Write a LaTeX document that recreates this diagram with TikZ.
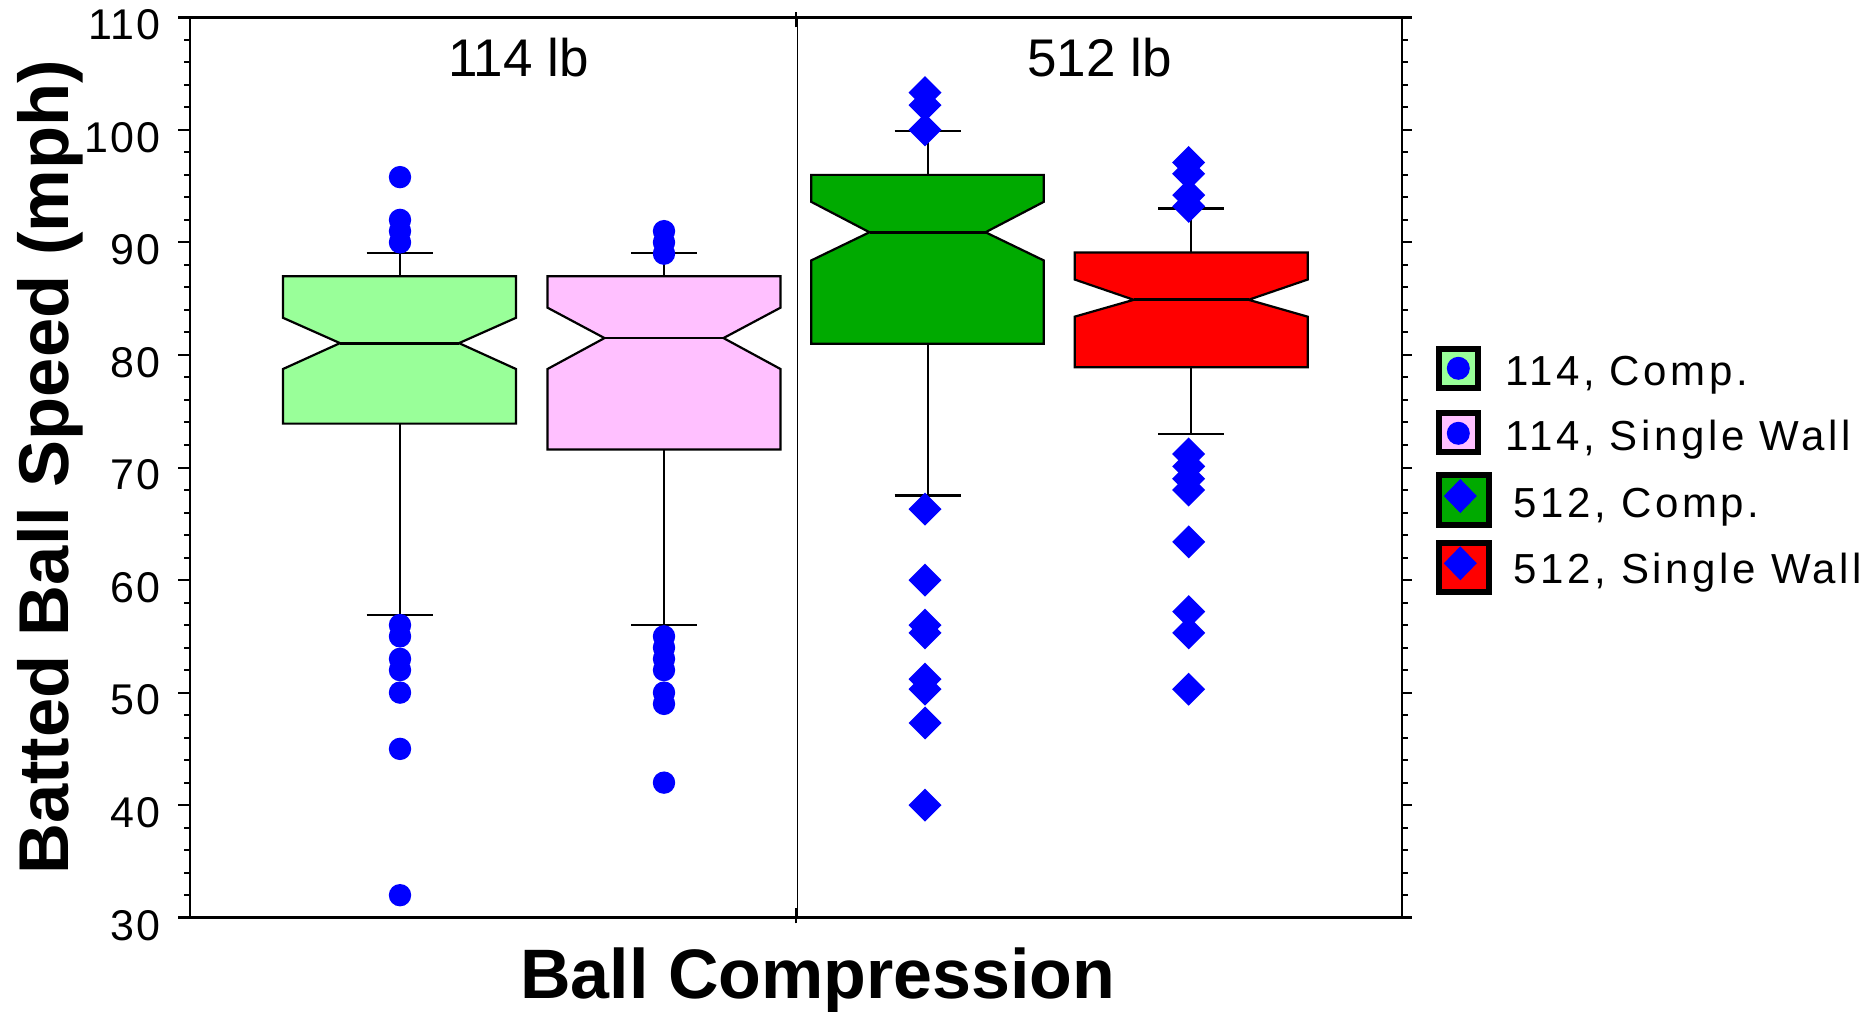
\documentclass[tikz,border=0pt]{standalone}
\usepackage{fontspec}
\setmainfont{Liberation Sans}
\newfontfamily\legfont[LetterSpace=8.5]{Liberation Sans}
\newfontfamily\tickfont[LetterSpace=4]{Liberation Sans}
\definecolor{lgreen}{RGB}{153,255,153}
\definecolor{lpink}{RGB}{255,192,255}
\definecolor{dgreen}{RGB}{0,170,0}
\definecolor{mblue}{RGB}{0,0,255}
\definecolor{mred}{RGB}{255,0,0}
% #1 centre, #2 half width, #3 notch half width, #4 q1, #5 notch low, #6 median, #7 notch high, #8 q3, #9 fill
\newcommand\nbox[9]{%
  \filldraw[boxline, fill=#9] ({#1-#2},#4) -- ({#1-#2},#5) -- ({#1-#3},#6) -- ({#1-#2},#7) -- ({#1-#2},#8)
     -- ({#1+#2},#8) -- ({#1+#2},#7) -- ({#1+#3},#6) -- ({#1+#2},#5) -- ({#1+#2},#4) -- cycle;
  \draw[medline] ({#1-#3},#6) -- ({#1+#3},#6);}
% #1 centre, #2 q1, #3 low cap, #4 q3, #5 high cap
\newcommand\whisk[5]{%
  \draw[whiskline] (#1,#2) -- (#1,#3);
  \draw[whiskline] (#1,#4) -- (#1,#5);
  \draw[capline] ({#1-33},#3) -- ({#1+33},#3);
  \draw[capline] ({#1-33},#5) -- ({#1+33},#5);}
\newcommand\dmark[2]{\fill[mblue] (#1,#2) ++(0,8.25pt) -- ++(8.25pt,-8.25pt) -- ++(-8.25pt,-8.25pt) -- ++(-8.25pt,8.25pt) -- cycle;}
\newcommand\cmark[2]{\fill[mblue] (#1,#2) circle[radius=5.6pt];}
\tikzset{
  boxline/.style={draw=black, line width=1.1pt, line join=miter},
  medline/.style={line width=1.4pt},
  whiskline/.style={line width=1pt},
  capline/.style={line width=1.2pt},
  frameline/.style={line width=1.25pt},
  tickline/.style={line width=1pt},
  ticklab/.style={anchor=east, inner sep=0pt, yshift=-3.75pt, font=\tickfont\fontsize{21.5pt}{24pt}\selectfont},
  panellab/.style={anchor=base west, inner sep=0pt, font=\fontsize{26.5pt}{30pt}\selectfont},
  leglab/.style={anchor=base west, inner sep=0pt, font=\legfont\fontsize{21pt}{24pt}\selectfont},
  legbox/.style={line width=3pt, draw=black},
}
\begin{document}
\begin{tikzpicture}[x=0.5pt,y=-0.5pt]
\useasboundingbox (0,0) rectangle (1864,1012);
\begin{scope}[yshift=-627.675pt, y=5.6275pt]
  % divider between panels
  \draw[line width=0.9pt] (797.5,30) -- (797.5,110);
  \draw[tickline] (795.5,109.1) -- (795.5,110.5);
  \draw[tickline] (795.5,29.5) -- (795.5,30.9);
  % boxes
  \whisk{399.5}{73.9}{56.9}{87}{89.05}
  \nbox{399.5}{116.5}{59.5}{73.9}{78.75}{81.05}{83.3}{87}{lgreen}
  \whisk{664}{71.6}{56.0}{87}{89.05}
  \nbox{664}{116.5}{59.5}{71.6}{78.75}{81.5}{84.2}{87}{lpink}
  \whisk{927.5}{81.0}{67.5}{96.0}{99.9}
  \nbox{927.5}{116.2}{58}{81.0}{88.4}{90.9}{93.6}{96.0}{dgreen}
  \whisk{1191.2}{78.9}{73.0}{89.1}{93.0}
  \nbox{1191.2}{116.5}{57.4}{78.9}{83.4}{84.9}{86.7}{89.1}{mred}
  % outliers
  \foreach \v in {95.8,92,91,90,56,55,53,52,50,45,32} {\cmark{400}{\v}}
  \foreach \v in {91,90,89,55,54,53,52,50,49,42} {\cmark{664}{\v}}
  \foreach \v in {103.3,102.2,100,66.3,60,56,55.3,51.2,50.3,47.3,40} {\dmark{925}{\v}}
  \foreach \v in {97.1,96.1,94.2,93.2,71.2,70.1,69,68,63.4,57.2,55.3,50.3} {\dmark{1188.7}{\v}}
  % frame
  \draw[frameline] (178,110) -- (1412,110);
  \draw[line width=1.5pt] (178,30) -- (1412,30);
  \draw[frameline] (190.2,30) -- (190.2,110);
  \draw[frameline] (1402,30) -- (1402,110);
  % ticks
  \foreach \v in {40,50,...,100} {
    \draw[tickline] (178,\v) -- (190.2,\v);
    \draw[tickline] (1402,\v) -- (1412.3,\v);
  }
  \foreach \v in {32,34,...,108} {
    \pgfmathtruncatemacro\r{mod(\v,10)}
    \ifnum\r=0\else
      \draw[tickline] (184.3,\v) -- (190.2,\v);
      \draw[tickline] (1402,\v) -- (1407.8,\v);
    \fi
  }
  \foreach \v in {30,40,...,110} {
    \node[ticklab] (t\v) at (160.5,\v) {\v};
  }
\end{scope}
% panel labels
\node[panellab] (p114) at (448,76.7) {114 lb};
\node[panellab] (p512) at (1027,76.7) {512 lb};
% axis titles
\node[anchor=base west, inner sep=0pt, font=\bfseries\fontsize{35pt}{40pt}\selectfont] (xlab) at (520,998.3) {Ball Compression};
\node[anchor=base, inner sep=0pt, rotate=90, font=\bfseries\fontsize{35.25pt}{40pt}\selectfont] (ylab) at (68.4,467.5) {Batted Ball Speed (mph)};
% legend
\filldraw[legbox, fill=lgreen] (1439,349) rectangle (1477.7,387.7);
\fill[mblue] (1458.3,368.3) circle[radius=5.75pt];
\filldraw[legbox, fill=lpink] (1439,413) rectangle (1477.7,451.7);
\fill[mblue] (1458.3,433.3) circle[radius=5.75pt];
\filldraw[legbox, fill=dgreen] (1439,475) rectangle (1488.7,524.7);
\fill[mblue] (1460.3,496) ++(0,8.5pt) -- ++(8.25pt,-8.5pt) -- ++(-8.25pt,-8.5pt) -- ++(-8.25pt,8.5pt) -- cycle;
\filldraw[legbox, fill=mred] (1439,543) rectangle (1488.7,592);
\fill[mblue] (1460.3,563.3) ++(0,8.5pt) -- ++(8.25pt,-8.5pt) -- ++(-8.25pt,-8.5pt) -- ++(-8.25pt,8.5pt) -- cycle;
\node[leglab] (l1) at (1505,385) {114, Comp.};
\node[leglab] (l2) at (1505,450) {114, Single Wall};
\node[leglab] (l3) at (1513.3,517.3) {512, Comp.};
\node[leglab] (l4) at (1513.3,583.3) {512, Single Wall};
\end{tikzpicture}
\end{document}
